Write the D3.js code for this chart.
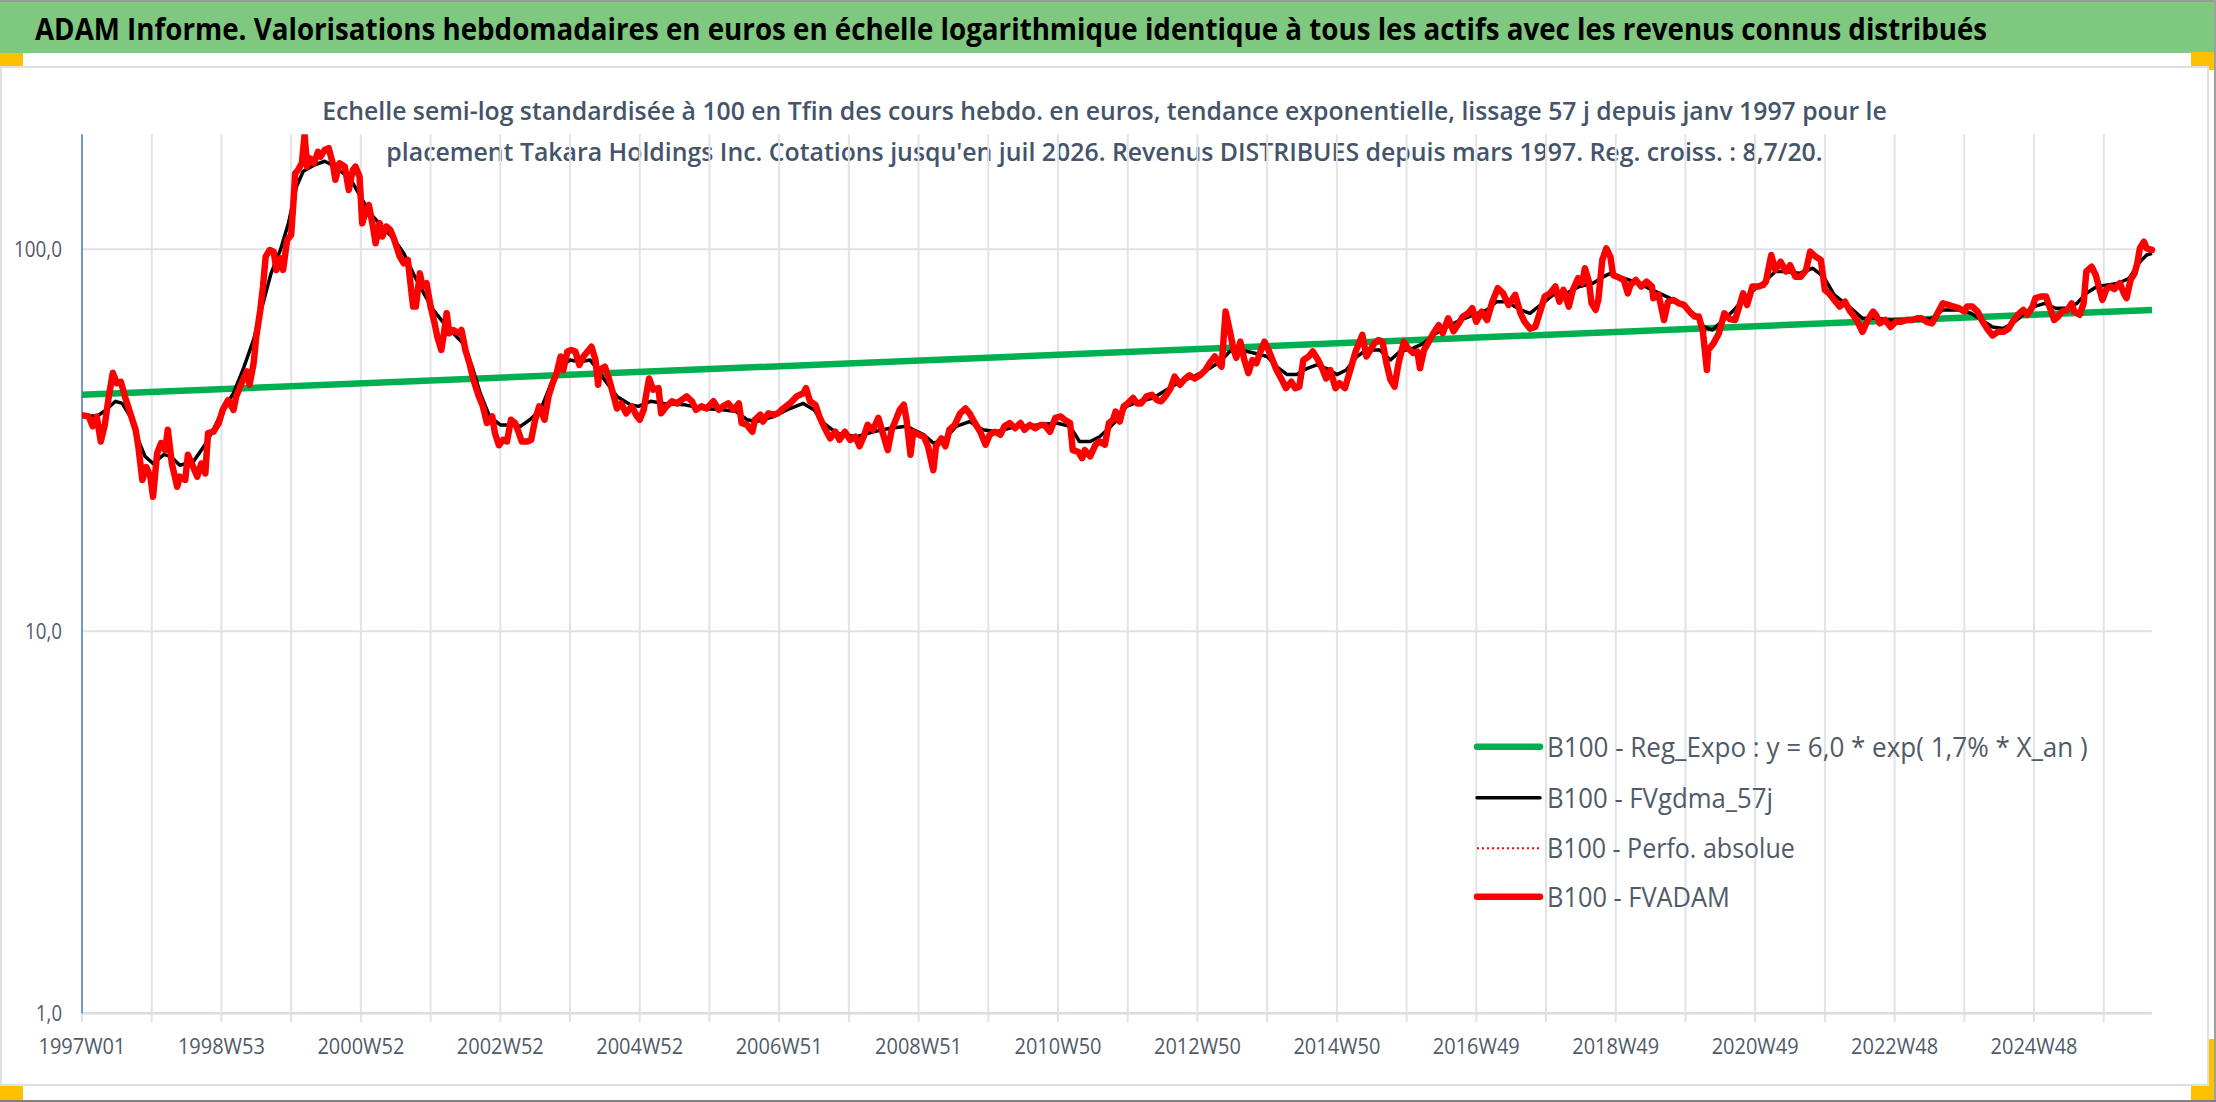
<!DOCTYPE html>
<html><head><meta charset="utf-8">
<script src="https://cdn.jsdelivr.net/npm/d3@7"></script>
<style>body{margin:0;background:#fff}svg{display:block}</style>
</head><body>
<svg id="c" width="2216" height="1102"></svg>
<script>
// ---------- DATA ----------
const weekCount = 1545; // weekly categories 1997W01 .. mid 2026
const tickLabels = ["1997W01","1998W53","2000W52","2002W52","2004W52","2006W51","2008W51","2010W50",
  "2012W50","2014W50","2016W49","2018W49","2020W49","2022W48","2024W48"];
const labelEvery = 104, gridEvery = 52;
const yTicks = [1, 10, 100];
const trendEnds = [[0, 41.6], [1544, 69.4]];
const fvadam = [[0,36.8],[5,36.5],[8,34.4],[11,36.5],[14,31.4],[17,34.7],[20,41.2],[23,47.5],[26,44.6],[29,45.0],[32,41.2],[36,37.2],[40,33.7],[42,30.5],[45,24.9],[48,26.9],[51,25.4],[53,22.5],[56,29.2],[59,31.1],[62,29.8],[64,33.7],[67,27.5],[71,23.9],[73,25.4],[77,24.9],[79,29.0],[83,26.9],[86,25.4],[89,27.5],[92,25.9],[94,33.0],[98,33.3],[102,35.1],[105,38.0],[109,40.3],[113,38.0],[115,41.2],[119,44.6],[123,47.9],[125,44.2],[128,50.3],[130,59.1],[133,69.4],[135,79.9],[137,95.7],[140,99.6],[143,98.6],[145,88.3],[148,94.7],[150,88.3],[153,105.8],[156,109.0],[158,137.4],[159,158],[161,161],[164,168],[166,199],[168,164.6],[170,173],[173,168],[176,180],[178,174.8],[181,182],[184,184],[187,168],[189,152],[192,168],[196,164.6],[199,143],[202,161.3],[204,164.6],[207,155],[209,117],[212,126.8],[214,130.6],[217,114.7],[219,103.7],[222,117],[224,108],[227,114.7],[230,112.4],[233,105.8],[237,95.7],[240,91.9],[243,93.8],[247,70.8],[249,70.8],[252,86.5],[254,79.9],[257,81.5],[260,70.8],[263,64.0],[265,59.1],[268,54.5],[270,60.3],[272,68.0],[274,60.3],[277,61.5],[281,60.3],[283,61.5],[286,54.5],[289,50.3],[292,45.5],[296,41.2],[299,38.8],[302,35.1],[306,36.5],[308,33.0],[311,30.7],[314,31.7],[317,31.4],[320,35.8],[323,35.1],[325,33.7],[328,31.4],[332,31.4],[335,31.7],[338,35.8],[341,38.8],[345,35.8],[348,41.2],[351,44.6],[354,47.4],[357,52.4],[359,48.3],[362,54.0],[365,54.5],[368,54.0],[371,49.8],[374,52.4],[378,54.5],[380,55.6],[383,51.3],[385,44.2],
[386,48.3],[390,49.3],[393,45.9],[396,42.0],[399,38.3],[402,39.5],[406,37.2],[410,38.8],[414,36.5],[416,35.8],[419,38.0],[421,42.0],[423,45.9],[426,42.9],[430,43.3],[432,37.2],[436,38.8],[440,40.0],[444,39.5],[447,40.3],[451,41.2],[455,40.0],[458,38.0],[462,38.8],[466,38.3],[471,40.0],[475,38.0],[478,38.8],[482,39.5],[486,38.0],[490,39.5],[492,35.1],[496,34.7],[500,33.3],[502,35.8],[506,36.9],[508,35.4],[512,37.2],[516,36.9],[519,37.2],[523,38.3],[528,39.5],[533,41.2],[538,42.0],[540,43.3],[543,40.0],[547,39.2],[550,36.5],[554,34.0],[558,32.0],[562,33.3],[565,31.7],[569,33.3],[573,31.7],[577,32.3],[580,30.5],[583,32.3],[586,34.7],[590,33.7],[594,36.2],[597,33.3],[601,29.8],[604,33.7],[608,36.5],[610,38.0],[613,39.2],[615,35.8],[618,29.0],[620,33.3],[624,32.7],[628,32.3],[631,30.5],[635,26.4],[637,30.5],[641,32.0],[644,30.5],[647,33.7],[651,34.7],[655,37.2],[659,38.3],[662,37.2],[666,35.1],[670,33.3],[674,30.8],[677,32.7],[681,33.3],[685,32.7],[688,34.4],[692,35.1],[696,34.0],[700,35.1],[703,33.7],[707,34.7],[711,34.0],[715,34.7],[718,34.7],[722,33.3],[726,36.2],[730,36.5],[733,35.8],[737,35.1],[739,29.8],[743,29.5],[746,28.4],[748,29.8],[752,28.7],[756,30.8],[759,31.4],[763,30.8],[766,35.1],
[769,35.8],[771,37.6],[774,35.4],[777,38.8],[780,39.5],[784,40.8],[787,39.5],[790,39.5],[794,41.2],[798,41.6],[802,40.3],[805,40.0],[808,41.2],[812,43.3],[815,46.4],[819,44.2],[823,45.9],[826,46.8],[830,45.9],[834,46.8],[838,48.3],[841,50.3],[845,52.4],[848,50.3],[850,49.3],[853,68.7],[856,61.5],[859,54.5],[861,52.0],[864,57.3],[867,51.3],[870,47.4],[873,51.3],[876,50.3],[879,54.0],[882,57.3],[885,54.5],[888,51.3],[891,48.3],[895,45.5],[898,43.3],[902,45.0],[905,43.3],[908,43.7],[911,51.3],[915,52.4],[918,54.0],[922,51.3],[925,48.8],[928,45.9],[931,48.3],[935,43.3],[938,44.6],[942,43.3],[946,48.3],[950,54.0],[955,59.7],[958,52.4],[961,54.5],[964,56.8],[967,57.9],[970,57.3],[973,50.3],[976,45.5],[979,43.7],[982,50.3],[986,57.3],[989,55.1],[993,53.5],[996,54.0],[998,48.8],[1001,54.5],[1004,56.8],[1008,60.3],[1012,63.3],[1015,60.3],[1019,66.0],[1023,61.0],[1027,64.0],[1030,66.7],[1034,68.0],[1037,70.1],[1040,64.6],[1044,68.7],[1048,65.3],[1052,72.9],[1056,79.1],[1060,76.7],[1064,71.5],[1069,76.0],[1073,68.0],[1076,64.6],[1080,62.0],[1084,62.6],[1088,69.4],[1091,75.2],[1095,76.7],[1099,79.9],[1102,72.9],[1105,78.3],[1109,70.8],[1112,78.3],[1116,84.0],[1119,81.5],[1121,89.2],[1124,82.3],[1126,72.2],[1129,69.4],[1131,73.7],[1134,93.8],[1137,100.6],[1140,95.7],[1142,85.7],[1145,84.8],
[1150,83.1],[1153,76.7],[1155,80.7],[1159,83.1],[1163,79.9],[1167,82.3],[1171,79.9],[1172,74.5],[1176,76.0],[1180,65.3],[1183,72.9],[1187,73.7],[1191,72.2],[1195,71.5],[1199,68.7],[1203,66.7],[1206,66.7],[1209,60.8],[1212,48.3],[1213,54.5],[1217,56.8],[1221,60.3],[1225,68.0],[1229,65.7],[1233,65.3],[1235,68.7],[1239,76.7],[1242,71.5],[1246,79.9],[1250,79.9],[1254,80.7],[1256,82.3],[1260,96.6],[1263,88.3],[1267,92.8],[1271,87.5],[1274,90.9],[1278,84.8],[1282,84.8],[1286,88.3],[1289,98.6],[1293,95.7],[1297,93.8],[1300,78.3],[1303,76.7],[1307,73.7],[1311,70.8],[1315,72.9],[1319,68.7],[1323,66.0],[1325,64.0],[1328,60.8],[1332,65.3],[1336,68.7],[1338,67.4],[1341,64.0],[1345,65.3],[1349,62.6],[1353,64.6],[1357,64.6],[1361,65.3],[1365,65.3],[1369,66.0],[1372,66.0],[1376,64.6],[1380,64.0],[1384,68.0],[1388,72.2],[1392,71.5],[1396,70.8],[1400,70.1],[1404,68.7],[1406,70.8],[1410,70.8],[1414,68.7],[1417,65.3],[1421,62.0],[1425,59.5],[1429,60.8],[1433,60.8],[1437,62.0],[1440,64.6],[1444,67.4],[1448,69.4],[1451,67.4],[1455,70.8],[1457,74.5],[1461,75.2],[1465,75.2],[1468,70.1],[1471,65.3],[1474,66.7],[1477,68.7],[1481,69.4],[1484,72.2],[1486,68.7],[1490,67.4],[1493,72.2],[1495,87.5],[1499,90.0],[1502,85.7],[1505,78.3],[1507,73.7],[1510,78.7],[1513,79.9],[1516,78.7],[1520,81.5],[1523,76.7],[1525,74.5],[1528,83.1],[1531,86.5],[1533,91.9],[1535,100.6],[1538,104.7],[1540,100.6],[1544,99.6]];
const fvgdma = [[0,36.9],[11,36.5],[18,38.0],[25,40.0],[30,39.5],[36,36.5],[41,32.3],[47,28.7],[53,27.5],[61,29.0],[66,28.7],[73,27.2],[83,27.8],[91,30.5],[98,33.7],[105,38.0],[113,42.0],[120,48.3],[128,58.0],[135,72.2],[141,86.5],[148,99.6],[154,117],[160,146],[165,160],[173,166],[181,170],[187,166],[195,158],[202,149],[210,133],[217,122],[225,113.5],[232,107],[240,97.6],[247,86.5],[255,76.7],[262,69.4],[270,64.0],[277,60.3],[284,56.8],[291,49.3],[297,42.0],[304,36.5],[312,34.7],[319,34.7],[327,34.4],[334,35.8],[342,38.0],[349,43.7],[357,49.3],[364,51.3],[371,50.8],[379,51.3],[384,48.8],[389,45.9],[399,41.2],[409,39.2],[415,38.8],[424,40.0],[434,39.5],[449,39.2],[463,38.3],[478,38.0],[488,37.6],[496,35.8],[503,35.4],[516,36.5],[528,38.3],[538,39.5],[546,38.0],[553,35.1],[563,33.0],[578,32.3],[590,33.3],[603,34.0],[615,34.4],[628,32.7],[635,31.1],[643,31.7],[652,34.4],[662,35.4],[672,33.7],[682,33.3],[697,34.4],[712,34.7],[727,35.1],[737,34.4],[744,31.4],[752,31.4],[759,32.3],[766,34.0],[772,35.8],[779,38.8],[789,40.0],[799,40.8],[809,42.9],[819,45.0],[829,46.4],[839,48.3],[849,50.8],[856,54.0],[864,54.5],[874,53.5],[884,52.4],[891,49.3],[899,47.0],[906,47.0],[914,48.8],[921,49.8],[928,48.8],[936,47.0],[943,48.3],[951,52.4],[958,54.5],[968,54.5],[976,51.3],[983,54.0],[993,55.1],[1001,56.8],[1008,59.7],[1018,62.6],[1028,65.3],[1038,67.4],[1048,69.4],[1055,72.9],[1063,72.9],[1073,69.4],[1080,68.0],[1088,71.5],[1097,75.9],[1107,76.7],[1117,79.9],[1127,81.5],[1135,84.8],[1140,86.5],[1150,84.0],[1161,81.5],[1171,78.3],[1182,75.2],[1192,72.2],[1203,67.4],[1210,62.6],[1216,61.5],[1223,64.6],[1231,68.7],[1239,73.7],[1247,78.3],[1255,82.3],[1263,87.5],[1271,87.5],[1281,86.5],[1291,89.2],[1299,84.8],[1307,76.0],[1318,70.8],[1328,66.0],[1338,66.0],[1349,65.3],[1359,65.3],[1370,65.3],[1380,66.0],[1388,69.4],[1399,69.4],[1409,68.0],[1417,65.3],[1425,62.6],[1433,62.0],[1440,64.0],[1448,67.4],[1456,70.8],[1464,72.2],[1472,70.1],[1480,70.1],[1488,72.2],[1495,76.7],[1503,79.9],[1511,80.7],[1519,81.5],[1527,84.0],[1535,92.8],[1540,96.6],[1544,97.6]];
const legendItems = [
  {name:"B100 - Reg_Expo : y = 6,0 * exp( 1,7% *  X_an )", color:"#00b050", width:6.5, dash:null, len:541},
  {name:"B100 - FVgdma_57j", color:"#000000", width:3.5, dash:null, len:226},
  {name:"B100 - Perfo. absolue", color:"#ff0000", width:2, dash:"2,3", len:248},
  {name:"B100 - FVADAM", color:"#ff0000", width:6.5, dash:null, len:183}
];
const titleText = "ADAM Informe. Valorisations hebdomadaires en euros en échelle logarithmique identique à tous les actifs avec les revenus connus distribués";
const subLines = ["Echelle semi-log standardisée à 100 en Tfin des cours hebdo. en euros, tendance exponentielle, lissage 57 j depuis janv 1997 pour le",
  "placement Takara Holdings Inc. Cotations jusqu'en juil 2026. Revenus DISTRIBUES depuis mars 1997. Reg. croiss. : 8,7/20."];

// ---------- DRAW ----------
const svg = d3.select("#c");
const FONT = "'Open Sans', 'Noto Sans', sans-serif";
const P = {left:82, right:2152, top:134.3, bottom:1013.3};
const x = d3.scaleLinear().domain([0, weekCount - 1]).range([P.left, P.right]);
const y = d3.scaleLog().domain([1, 200]).range([P.bottom, P.top]);
const fmt = d3.formatLocale({decimal:",", thousands:" ", grouping:[3], currency:["","€"]}).format(".1f");

// squeeze a text horizontally to a target width around its anchor x
function fit(sel, w) {
  sel.each(function(d, i) {
    const target = typeof w === "function" ? w(d, i) : w;
    const n = this.getComputedTextLength();
    if (!n) return;
    const k = target / n, ax = +this.getAttribute("x");
    this.setAttribute("transform", `translate(${ax},0) scale(${k},1) translate(${-ax},0)`);
  });
}

// page decorations
svg.append("rect").attr("x",0).attr("y",0).attr("width",2216).attr("height",1102).attr("fill","#fff");
svg.append("rect").attr("x",0).attr("y",2).attr("width",2214).attr("height",51).attr("fill","#7fc87f");
svg.append("line").attr("x1",0).attr("x2",2216).attr("y1",1).attr("y2",1).attr("stroke","#8fa08f").attr("stroke-width",2);
svg.append("line").attr("x1",2215).attr("x2",2215).attr("y1",0).attr("y2",1102).attr("stroke","#a0a0a0").attr("stroke-width",2);
svg.append("line").attr("x1",0).attr("x2",2216).attr("y1",1101).attr("y2",1101).attr("stroke","#808080").attr("stroke-width",2);
const orange = "#ffc000";
[[0,53,23,13],[2191,52,23,18],[0,1086,23,14],[2191,1039,23,61]].forEach(r =>
  svg.append("rect").attr("x",r[0]).attr("y",r[1]).attr("width",r[2]).attr("height",r[3]).attr("fill",orange));
svg.append("rect").attr("x",1).attr("y",67).attr("width",2207).attr("height",1018)
  .attr("fill","#fff").attr("stroke","#dcdfe4").attr("stroke-width",2);

// title
svg.append("text").attr("x",35).attr("y",40).attr("font-family",FONT).attr("font-weight",700)
  .attr("font-size",30).attr("fill","#000").text(titleText).call(fit, 1953);
// subtitle
const subW = [1566, 1437], subY = [120, 161];
svg.selectAll(".sub").data(subLines).join("text").attr("x",1104.5).attr("y",(d,i)=>subY[i]).attr("text-anchor","middle")
  .attr("font-family",FONT).attr("font-weight",600).attr("font-size",26).attr("fill","#44546a")
  .text(d=>d).call(fit, (d,i)=>subW[i]);

// gridlines
const g = svg.append("g");
const gridWeeks = d3.range(0, weekCount, gridEvery);
g.selectAll(".vg").data(gridWeeks).join("line")
  .attr("x1",d=>x(d)).attr("x2",d=>x(d))
  .attr("y1",d=> d===0 ? P.bottom : P.top).attr("y2",P.bottom+9)
  .attr("stroke","#e0e3e8").attr("stroke-width",2);
g.selectAll(".hg").data(yTicks.filter(v=>v>1)).join("line")
  .attr("x1",P.left).attr("x2",P.right).attr("y1",d=>y(d)).attr("y2",d=>y(d))
  .attr("stroke","#dfe2e7").attr("stroke-width",2);
g.append("line").attr("x1",P.left).attr("x2",P.right).attr("y1",y(1)).attr("y2",y(1))
  .attr("stroke","#d9dce1").attr("stroke-width",2.5);
g.append("line").attr("x1",P.left).attr("x2",P.left).attr("y1",P.top).attr("y2",P.bottom)
  .attr("stroke","#4472c4").attr("stroke-width",1.5);

// y labels
const ylw = {"1,0":26, "10,0":37, "100,0":48};
g.selectAll(".yl").data(yTicks).join("text")
  .attr("x",62).attr("y",d=>y(d)+8).attr("text-anchor","end")
  .attr("font-family",FONT).attr("font-size",21).attr("fill","#505a68")
  .text(d=>fmt(d)).call(fit, d=>ylw[fmt(d)]);
// x labels
g.selectAll(".xl").data(tickLabels).join("text")
  .attr("x",(d,i)=>x(i*labelEvery)).attr("y",1054).attr("text-anchor","middle")
  .attr("font-family",FONT).attr("font-size",22).attr("fill","#505a68")
  .text(d=>d).call(fit, 87);

// series
svg.append("clipPath").attr("id","pc").append("rect")
  .attr("x",P.left).attr("y",P.top).attr("width",P.right-P.left+4).attr("height",P.bottom-P.top);
const line = d3.line().x(d=>x(d[0])).y(d=>y(d[1]));
const s = svg.append("g").attr("clip-path","url(#pc)");
s.append("path").attr("d",line(trendEnds)).attr("fill","none").attr("stroke","#00b050").attr("stroke-width",6.5);
s.append("path").attr("d",line(fvgdma)).attr("fill","none").attr("stroke","#000").attr("stroke-width",3.5)
  .attr("stroke-linejoin","round");
s.append("path").attr("d",line(fvadam)).attr("fill","none").attr("stroke","#ff0000").attr("stroke-width",6.5)
  .attr("stroke-linejoin","round").attr("stroke-linecap","round");

// legend
const lg = svg.append("g");
const legY = [746.7, 797.7, 848.3, 896.7];
legendItems.forEach((d,i) => {
  lg.append("line").attr("x1",1477).attr("x2",1540).attr("y1",legY[i]).attr("y2",legY[i])
    .attr("stroke",d.color).attr("stroke-width",d.width).attr("stroke-dasharray",d.dash)
    .attr("stroke-linecap", d.dash ? "butt" : "round");
  lg.append("text").attr("x",1547).attr("y",legY[i]+10).attr("font-family",FONT).attr("font-size",27)
    .attr("fill","#505a68").text(d.name).call(fit, d.len);
});
</script>
</body></html>
